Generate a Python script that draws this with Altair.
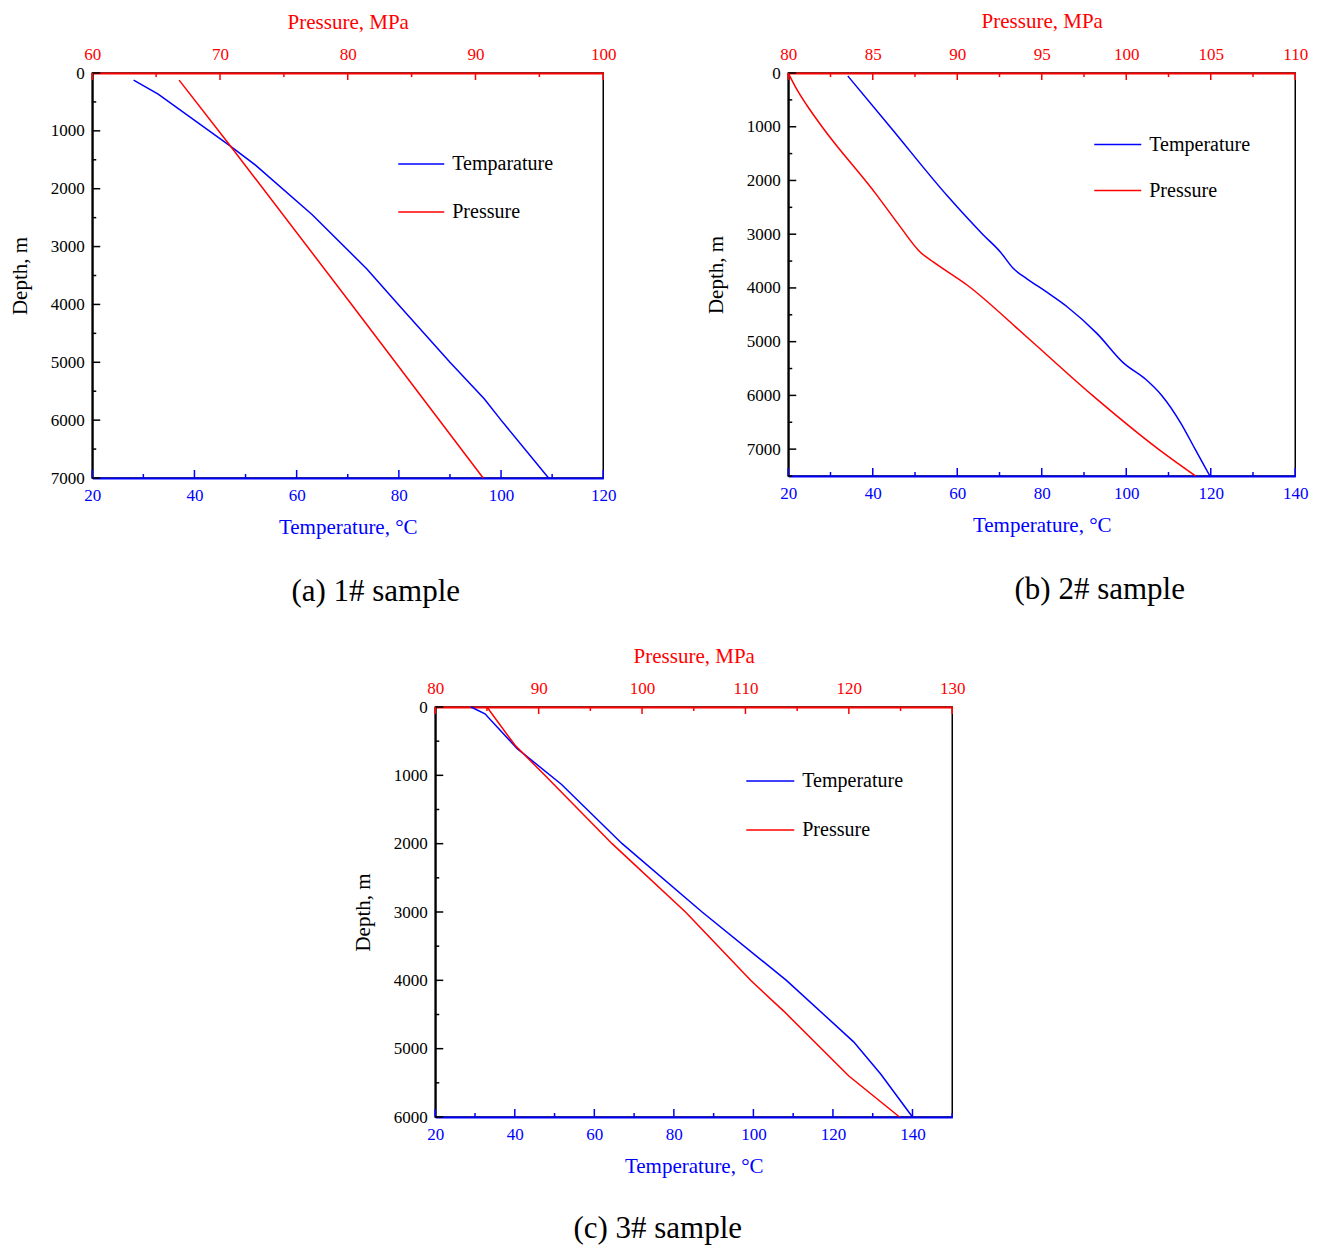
import altair as alt
import pandas as pd

FONT = "Liberation Serif"
BLUE = "#0000ff"
RED = "#ff0000"

# ---------------- Panel (a) ----------------
a_names = ["Temparature", "Pressure"]
a_temp_depth = [123, 364, 1257, 1596, 2446, 3383, 3993, 5000, 5632, 6000, 7000]
a_temp = [28.1, 32.9, 46.9, 52.0, 63.0, 73.7, 79.8, 90.0, 96.7, 100.0, 109.3]
a_pres_depth = [123, 1257, 4000, 7000]
a_pres = [66.8, 70.8, 80.3, 90.6]
a_t_major = [20, 40, 60, 80, 100, 120]
a_t_minor = [30, 50, 70, 90, 110]
a_p_major = [60, 70, 80, 90, 100]
a_p_minor = [65, 75, 85, 95]
a_y_major = [0, 1000, 2000, 3000, 4000, 5000, 6000, 7000]
a_y_minor = [500, 1500, 2500, 3500, 4500, 5500, 6500]

# ---------------- Panel (b) ----------------
b_names = ["Temperature", "Pressure"]
b_temp_depth = [56, 1000, 2300, 3000, 3330, 3640, 3830, 4080, 4350, 4850, 5400, 5700, 6000, 6500, 7000, 7500]
b_temp = [34.1, 44.1, 57.8, 66.0, 70.2, 73.3, 76.5, 81.2, 86.0, 93.1, 99.4, 104.6, 108.4, 112.8, 116.3, 119.8]
b_pres_depth = [0, 300, 600, 1000, 2277, 2850, 3330, 3520, 3950, 4880, 6000, 7000, 7500]
b_pres = [80.0, 80.5, 81.1, 82.0, 85.25, 86.6, 87.8, 88.6, 90.6, 94.0, 98.0, 101.9, 104.1]
b_t_major = [20, 40, 60, 80, 100, 120, 140]
b_t_minor = [30, 50, 70, 90, 110, 130]
b_p_major = [80, 85, 90, 95, 100, 105, 110]
b_p_minor = [82.5, 87.5, 92.5, 97.5, 102.5, 107.5]
b_y_major = [0, 1000, 2000, 3000, 4000, 5000, 6000, 7000]
b_y_minor = [500, 1500, 2500, 3500, 4500, 5500, 6500, 7500]

# ---------------- Panel (c) ----------------
c_names = ["Temperature", "Pressure"]
c_temp_depth = [0, 99, 609, 1130, 2000, 3000, 4000, 4900, 5370, 6000]
c_temp = [29.0, 32.5, 40.6, 51.7, 67.0, 87.1, 108.3, 125.2, 132.0, 140.0]
c_pres_depth = [0, 557, 1000, 2000, 3000, 4000, 4450, 5400, 6000]
c_pres = [85.0, 87.7, 90.6, 97.1, 104.2, 110.5, 113.7, 120.0, 124.9]
c_t_major = [20, 40, 60, 80, 100, 120, 140]
c_t_minor = [30, 50, 70, 90, 110, 130, 150]
c_p_major = [80, 90, 100, 110, 120, 130]
c_p_minor = [85, 95, 105, 115, 125]
c_y_major = [0, 1000, 2000, 3000, 4000, 5000, 6000]
c_y_minor = [500, 1500, 2500, 3500, 4500, 5500]


def axis(orient, color, values, title, label_pad, title_pad, fmt=None):
    kw = dict(
        orient=orient, values=values, title=title, ticks=False, grid=False,
        labelFlush=False, labelOverlap=False,
        labelFont=FONT, labelFontSize=17, labelColor=color,
        titleFont=FONT, titleFontSize=21, titleFontWeight="normal", titleColor=color,
        domainColor=color, domainWidth=2, labelPadding=label_pad,
        titlePadding=title_pad,
    )
    if fmt:
        kw["format"] = fmt
    return alt.Axis(**kw)


def panel(names, tdepth, temp, pdepth, pres, tdom, tmaj, tmin, pdom, pmaj, pmin,
          ydom, ymaj, ymin, w, h, legx, legy, rowpad, symlen, caption, cap_dx,
          cap_off, top_title_pad, interp):
    tdf = pd.DataFrame({"T": temp, "Depth": tdepth, "series": names[0]})
    pdf = pd.DataFrame({"P": pres, "Depth": pdepth, "series": names[1]})
    ysc = alt.Scale(domain=ydom, reverse=True, nice=False, zero=False)
    tsc = alt.Scale(domain=tdom, nice=False, zero=False)
    psc = alt.Scale(domain=pdom, nice=False, zero=False)
    ax_t = axis("bottom", BLUE, tmaj, "Temperature, °C", 9, 13)
    ax_p = axis("top", RED, pmaj, "Pressure, MPa", 10, top_title_pad)
    ax_y = axis("left", "black", ymaj, "Depth, m", 8, 20, "d")
    color = alt.Color(
        "series:N",
        scale=alt.Scale(domain=names, range=[BLUE, RED]),
        legend=alt.Legend(
            orient="none", legendX=legx, legendY=legy, title=None,
            symbolType="stroke", symbolSize=symlen * symlen, symbolStrokeWidth=1.5,
            labelFont=FONT, labelFontSize=20, labelColor="black", labelOffset=7,
            rowPadding=rowpad, padding=0,
        ),
    )
    tline = alt.Chart(tdf).mark_line(strokeWidth=1.5, interpolate=interp).encode(
        x=alt.X("T:Q", scale=tsc, axis=ax_t),
        y=alt.Y("Depth:Q", scale=ysc, axis=ax_y),
        color=color,
        order=alt.Order("Depth:Q"),
    )
    pline = alt.Chart(pdf).mark_line(strokeWidth=1.5, interpolate=interp).encode(
        x=alt.X("P:Q", scale=psc, axis=ax_p),
        y=alt.Y("Depth:Q", scale=ysc, axis=ax_y),
        color=color,
        order=alt.Order("Depth:Q"),
    )

    def xticks(vals, field, sc, ax, col, y0, y1):
        return alt.Chart(pd.DataFrame({field: vals})).mark_rule(color=col, strokeWidth=1.5).encode(
            x=alt.X(f"{field}:Q", scale=sc, axis=ax),
            y=alt.value(y0), y2=alt.value(y1),
        )

    def yticks(vals, length):
        return alt.Chart(pd.DataFrame({"Depth": vals})).mark_rule(color="black", strokeWidth=1.5).encode(
            y=alt.Y("Depth:Q", scale=ysc, axis=ax_y),
            x=alt.value(0), x2=alt.value(length),
        )

    tgroup = alt.layer(
        tline,
        xticks(tmaj, "T", tsc, ax_t, BLUE, h, h - 8),
        xticks(tmin, "T", tsc, ax_t, BLUE, h, h - 4),
        yticks(ymaj, 8),
        yticks(ymin, 4),
    )
    pgroup = alt.layer(
        pline,
        xticks(pmaj, "P", psc, ax_p, RED, 0, 7),
        xticks(pmin, "P", psc, ax_p, RED, 0, 4),
    )
    return alt.layer(tgroup, pgroup).resolve_scale(x="independent").properties(
        width=w, height=h,
        title=alt.TitleParams(
            caption, orient="bottom", anchor="middle", frame="group", dx=cap_dx,
            font=FONT, fontSize=31, fontWeight="normal", color="black", offset=cap_off,
        ),
    )


pa = panel(a_names, a_temp_depth, a_temp, a_pres_depth, a_pres,
           [20, 120], a_t_major, a_t_minor, [60, 100], a_p_major, a_p_minor,
           [0, 7000], a_y_major, a_y_minor, 511, 405, 305, 67, 14, 46,
           "(a) 1# sample", 28, 40, 13, "linear")
pb = panel(b_names, b_temp_depth, b_temp, b_pres_depth, b_pres,
           [20, 140], b_t_major, b_t_minor, [80, 110], b_p_major, b_p_minor,
           [0, 7500], b_y_major, b_y_minor, 507, 403, 305, 47, 11, 47,
           "(b) 2# sample", 58, 40, 14, "monotone")
pc = panel(c_names, c_temp_depth, c_temp, c_pres_depth, c_pres,
           [20, 150], c_t_major, c_t_minor, [80, 130], c_p_major, c_p_minor,
           [0, 6000], c_y_major, c_y_minor, 517, 410, 310, 49, 14, 48,
           "(c) 3# sample", -36, 38, 13, "linear")

top = alt.hconcat(pa, pb, spacing=87).resolve_scale(color="independent")
chart = alt.vconcat(top, pc, spacing=36, center=True).resolve_scale(
    color="independent"
).configure_view(stroke="black", strokeWidth=1.5).properties(
    padding={"left": 8, "top": 9, "right": 5, "bottom": 2},
    background="white",
)

chart.save("out.html", embed_options={"renderer": "svg", "actions": False})
